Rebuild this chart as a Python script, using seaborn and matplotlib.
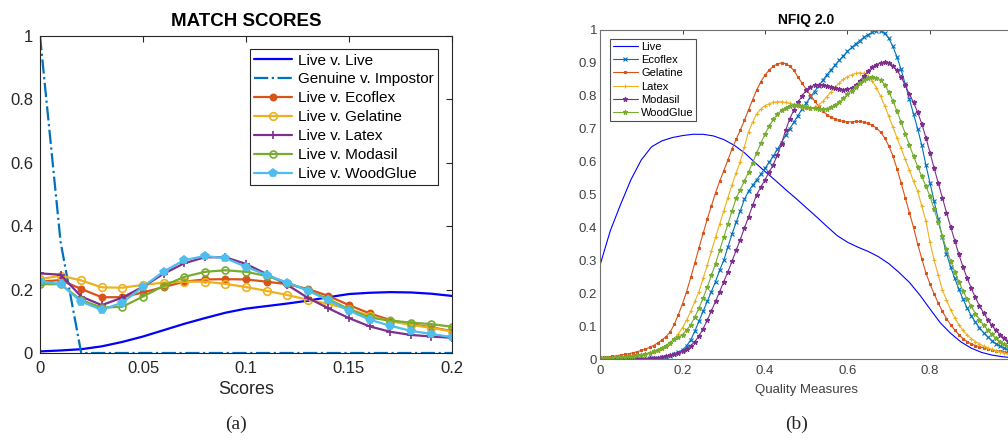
import numpy as np
import seaborn as sns
import matplotlib
matplotlib.use('Agg')
import matplotlib.pyplot as plt

# ---------------- data: (a) match scores ----------------
scores = np.round(np.arange(0, 0.201, 0.01), 2)
live_live = [0.005, 0.008, 0.012, 0.021, 0.035, 0.052, 0.072, 0.092, 0.110, 0.127, 0.140,
             0.148, 0.156, 0.165, 0.176, 0.186, 0.190, 0.192, 0.191, 0.187, 0.180]
genuine_impostor = [1.0, 0.35] + [0.0] * 19
ms_ecoflex = [0.225, 0.230, 0.202, 0.176, 0.176, 0.191, 0.208, 0.225, 0.232, 0.233, 0.232,
              0.225, 0.217, 0.202, 0.180, 0.151, 0.125, 0.104, 0.091, 0.081, 0.069]
ms_gelatine = [0.233, 0.244, 0.229, 0.207, 0.206, 0.215, 0.222, 0.225, 0.225, 0.218, 0.208,
               0.196, 0.183, 0.168, 0.155, 0.138, 0.118, 0.100, 0.089, 0.079, 0.068]
ms_latex = [0.251, 0.247, 0.178, 0.151, 0.175, 0.209, 0.250, 0.283, 0.302, 0.302, 0.281,
            0.249, 0.215, 0.174, 0.141, 0.110, 0.084, 0.067, 0.057, 0.052, 0.048]
ms_modasil = [0.217, 0.217, 0.167, 0.143, 0.146, 0.178, 0.212, 0.240, 0.256, 0.261, 0.256,
              0.243, 0.222, 0.198, 0.170, 0.138, 0.112, 0.102, 0.096, 0.091, 0.083]
ms_woodglue = [0.227, 0.217, 0.162, 0.136, 0.159, 0.209, 0.257, 0.293, 0.306, 0.299, 0.272,
               0.246, 0.222, 0.197, 0.166, 0.134, 0.105, 0.086, 0.070, 0.060, 0.050]

# ---------------- data: (b) NFIQ 2.0 ----------------
q_live = np.round(np.arange(0, 1.0001, 0.025), 3)
nf_live = [0.285, 0.390, 0.470, 0.545, 0.605, 0.645, 0.663, 0.673, 0.679, 0.683, 0.683,
           0.678, 0.667, 0.650, 0.627, 0.598, 0.570, 0.543, 0.515, 0.488, 0.460,
           0.432, 0.403, 0.375, 0.355, 0.340, 0.327, 0.311, 0.290, 0.263, 0.233,
           0.195, 0.152, 0.110, 0.078, 0.052, 0.033, 0.020, 0.012, 0.007, 0.004]

quality = np.round(np.arange(0, 1.0001, 0.01), 2)
nf_ecoflex = [0.000, 0.000, 0.000, 0.000, 0.000, 0.000, 0.000, 0.000, 0.001, 0.001,
              0.001, 0.001, 0.002, 0.003, 0.004, 0.005, 0.007, 0.010, 0.014, 0.020,
              0.028, 0.040, 0.058, 0.085, 0.115, 0.145, 0.175, 0.205, 0.235, 0.270,
              0.300, 0.340, 0.380, 0.415, 0.450, 0.485, 0.510, 0.528, 0.545, 0.562,
              0.580, 0.598, 0.617, 0.637, 0.658, 0.680, 0.700, 0.720, 0.740, 0.760,
              0.778, 0.796, 0.813, 0.830, 0.847, 0.864, 0.879, 0.894, 0.908, 0.922,
              0.935, 0.947, 0.958, 0.968, 0.978, 0.986, 0.993, 0.998, 0.998, 0.990,
              0.975, 0.950, 0.918, 0.880, 0.835, 0.790, 0.745, 0.700, 0.650, 0.590,
              0.535, 0.480, 0.425, 0.370, 0.320, 0.280, 0.245, 0.212, 0.182, 0.155,
              0.132, 0.112, 0.095, 0.080, 0.067, 0.056, 0.047, 0.039, 0.033, 0.028, 0.024]
nf_gelatine = [0.005, 0.006, 0.007, 0.008, 0.010, 0.012, 0.014, 0.016, 0.019, 0.022,
               0.026, 0.030, 0.035, 0.041, 0.049, 0.058, 0.068, 0.082, 0.105, 0.135,
               0.168, 0.205, 0.248, 0.292, 0.338, 0.382, 0.425, 0.465, 0.505, 0.540,
               0.572, 0.605, 0.638, 0.668, 0.695, 0.725, 0.757, 0.788, 0.818, 0.843,
               0.863, 0.878, 0.890, 0.897, 0.900, 0.898, 0.890, 0.877, 0.857, 0.838,
               0.820, 0.802, 0.785, 0.768, 0.754, 0.743, 0.735, 0.729, 0.725, 0.722,
               0.721, 0.721, 0.722, 0.722, 0.720, 0.716, 0.711, 0.702, 0.690, 0.672,
               0.648, 0.618, 0.578, 0.535, 0.490, 0.445, 0.400, 0.350, 0.305, 0.262,
               0.228, 0.198, 0.170, 0.145, 0.123, 0.104, 0.088, 0.074, 0.062, 0.053,
               0.046, 0.041, 0.037, 0.034, 0.031, 0.028, 0.025, 0.023, 0.021, 0.019, 0.017]
nf_latex = [0.002, 0.002, 0.003, 0.003, 0.004, 0.005, 0.006, 0.007, 0.008, 0.010,
            0.012, 0.014, 0.017, 0.021, 0.026, 0.032, 0.040, 0.050, 0.062, 0.077,
            0.095, 0.118, 0.145, 0.175, 0.205, 0.245, 0.285, 0.328, 0.370, 0.410,
            0.450, 0.490, 0.530, 0.565, 0.600, 0.645, 0.690, 0.720, 0.745, 0.760,
            0.770, 0.776, 0.780, 0.782, 0.782, 0.780, 0.777, 0.773, 0.769, 0.766,
            0.764, 0.763, 0.765, 0.772, 0.783, 0.797, 0.812, 0.826, 0.839, 0.850,
            0.858, 0.864, 0.868, 0.870, 0.868, 0.860, 0.845, 0.825, 0.799, 0.770,
            0.738, 0.705, 0.672, 0.640, 0.607, 0.575, 0.540, 0.510, 0.465, 0.420,
            0.355, 0.300, 0.255, 0.210, 0.180, 0.150, 0.125, 0.104, 0.087, 0.073,
            0.062, 0.053, 0.046, 0.039, 0.034, 0.029, 0.025, 0.021, 0.018, 0.016, 0.014]
nf_modasil = [0.000, 0.000, 0.000, 0.000, 0.000, 0.000, 0.000, 0.000, 0.001, 0.001,
              0.001, 0.001, 0.002, 0.003, 0.004, 0.006, 0.008, 0.011, 0.014, 0.018,
              0.023, 0.030, 0.040, 0.053, 0.070, 0.092, 0.118, 0.146, 0.175, 0.205,
              0.235, 0.265, 0.297, 0.330, 0.363, 0.397, 0.432, 0.467, 0.500, 0.523,
              0.545, 0.568, 0.590, 0.620, 0.655, 0.695, 0.730, 0.757, 0.780, 0.800,
              0.817, 0.827, 0.832, 0.834, 0.834, 0.831, 0.827, 0.823, 0.820, 0.819,
              0.820, 0.824, 0.832, 0.845, 0.860, 0.875, 0.887, 0.895, 0.900, 0.902,
              0.900, 0.892, 0.877, 0.857, 0.832, 0.805, 0.780, 0.750, 0.715, 0.673,
              0.627, 0.580, 0.535, 0.490, 0.445, 0.402, 0.360, 0.318, 0.280, 0.246,
              0.215, 0.187, 0.162, 0.140, 0.120, 0.102, 0.087, 0.074, 0.063, 0.054, 0.047]
nf_woodglue = [0.003, 0.003, 0.004, 0.004, 0.005, 0.006, 0.007, 0.008, 0.009, 0.011,
               0.013, 0.016, 0.019, 0.023, 0.028, 0.034, 0.041, 0.050, 0.060, 0.066,
               0.074, 0.088, 0.104, 0.128, 0.155, 0.185, 0.218, 0.254, 0.290, 0.330,
               0.370, 0.410, 0.450, 0.488, 0.515, 0.540, 0.568, 0.597, 0.627, 0.656,
               0.684, 0.708, 0.728, 0.744, 0.756, 0.764, 0.770, 0.773, 0.772, 0.769,
               0.766, 0.764, 0.762, 0.760, 0.759, 0.761, 0.765, 0.772, 0.781, 0.792,
               0.804, 0.816, 0.827, 0.838, 0.847, 0.853, 0.856, 0.855, 0.848, 0.834,
               0.812, 0.785, 0.753, 0.720, 0.685, 0.650, 0.617, 0.585, 0.555, 0.525,
               0.495, 0.455, 0.415, 0.373, 0.333, 0.298, 0.265, 0.235, 0.207, 0.182,
               0.160, 0.138, 0.120, 0.103, 0.088, 0.075, 0.063, 0.053, 0.045, 0.038, 0.032]

# MATLAB default colours
BLUE = '#0000ff'
C1, C2, C3, C4, C5, C6 = '#0072BD', '#D95319', '#EDB120', '#7E2F8E', '#77AC30', '#4DBEEE'

sns.set_theme(style='white')
plt.rcParams['font.family'] = ['Liberation Sans', 'DejaVu Sans']

fig = plt.figure(figsize=(10.08, 4.42), dpi=100)
ax1 = fig.add_axes([40 / 1008, 1 - 353 / 442, 412 / 1008, 317 / 442])
ax2 = fig.add_axes([600 / 1008, 1 - 359 / 442, 412.5 / 1008, 329 / 442])

# ---------- (a) ----------
dark = '#262626'
sns.lineplot(x=scores, y=live_live, color=BLUE, lw=1.6, label='Live v. Live', ax=ax1)
sns.lineplot(x=scores, y=genuine_impostor, color=C1, lw=1.6, linestyle='-.',
             label='Genuine v. Impostor', ax=ax1)
series_a = [
    (ms_ecoflex, C2, 'o', 4.5, C2, 'Live v. Ecoflex'),
    (ms_gelatine, C3, 'o', 5.5, 'none', 'Live v. Gelatine'),
    (ms_latex, C4, '+', 5.5, C4, 'Live v. Latex'),
    (ms_modasil, C5, 'o', 5, 'none', 'Live v. Modasil'),
    (ms_woodglue, C6, 'p', 5.5, C6, 'Live v. WoodGlue'),
]
for vals, col, mk, ms, mfc, lab in series_a:
    sns.lineplot(x=scores, y=vals, color=col, lw=1.6, marker=mk, markersize=ms,
                 markerfacecolor=mfc, markeredgecolor=col, markeredgewidth=1.2,
                 label=lab, ax=ax1)

ax1.set_xlim(0, 0.2)
ax1.set_ylim(0, 1)
ax1.set_xticks([0, 0.05, 0.1, 0.15, 0.2])
ax1.set_xticklabels(['0', '0.05', '0.1', '0.15', '0.2'])
ax1.set_yticks([0, 0.2, 0.4, 0.6, 0.8, 1])
ax1.set_yticklabels(['0', '0.2', '0.4', '0.6', '0.8', '1'])
ax1.tick_params(direction='in', length=4, width=0.8, colors=dark, labelsize=12,
                top=True, right=True, pad=6)
ax1.tick_params(axis='y', pad=5)
for s in ax1.spines.values():
    s.set_color(dark)
    s.set_linewidth(0.8)
ax1.set_xlabel('Scores', fontsize=13, color=dark, labelpad=3)
ax1.set_ylabel('')
ax1.set_title('MATCH SCORES', fontsize=13.5, fontweight='bold', color='black', pad=7)
leg1 = ax1.legend(loc='upper right', bbox_to_anchor=(0.966, 0.959), borderaxespad=0,
                  fontsize=11, handlelength=2.5, handletextpad=0.35, labelspacing=0.32,
                  borderpad=0.3, fancybox=False, framealpha=1, edgecolor=dark)
leg1.get_frame().set_linewidth(0.8)
for t in leg1.get_texts():
    t.set_color('black')

# ---------- (b) ----------
grey = '#404040'
sns.lineplot(x=q_live, y=nf_live, color=BLUE, lw=0.8, label='Live', ax=ax2)
series_b = [
    (nf_ecoflex, C1, 'x', 3, 'Ecoflex'),
    (nf_gelatine, C2, 's', 2, 'Gelatine'),
    (nf_latex, C3, '+', 3.5, 'Latex'),
    (nf_modasil, C4, '*', 3.5, 'Modasil'),
    (nf_woodglue, C5, '*', 3.5, 'WoodGlue'),
]
for vals, col, mk, ms, lab in series_b:
    sns.lineplot(x=quality, y=vals, color=col, lw=0.8, marker=mk, markersize=ms,
                 markerfacecolor=col, markeredgecolor=col, markeredgewidth=0.8,
                 label=lab, ax=ax2)

ax2.set_xlim(0, 1)
ax2.set_ylim(0, 1)
# the "1" tick of the x axis falls just outside the picture
ax2.set_xticks([0, 0.2, 0.4, 0.6, 0.8])
ax2.set_xticklabels(['0', '0.2', '0.4', '0.6', '0.8'])
ax2.set_yticks(np.round(np.arange(0, 1.01, 0.1), 1))
ax2.set_yticklabels(['0', '0.1', '0.2', '0.3', '0.4', '0.5', '0.6', '0.7', '0.8', '0.9', '1'])
ax2.tick_params(direction='in', length=3, width=0.7, colors=grey, labelsize=9.5,
                top=True, right=True, pad=4)
ax2.tick_params(axis='y', pad=2)
for s in ax2.spines.values():
    s.set_color('#707070')
    s.set_linewidth(0.8)
ax2.set_xlabel('Quality Measures', fontsize=9.5, color=grey, labelpad=5)
ax2.set_ylabel('')
ax2.set_title('NFIQ 2.0', fontsize=10, fontweight='bold', color='black', pad=4)
leg2 = ax2.legend(loc='upper left', bbox_to_anchor=(0.024, 0.973), borderaxespad=0,
                  fontsize=8, handlelength=2.3, handletextpad=0.25, labelspacing=0.3,
                  borderpad=0.25, fancybox=False, framealpha=1, edgecolor='#505050')
leg2.get_frame().set_linewidth(0.8)
for t in leg2.get_texts():
    t.set_color('black')

# sub-figure captions
fig.text(236 / 1008, 1 - 424 / 442, '(a)', ha='center', va='center', fontsize=14,
         family=['Liberation Serif', 'DejaVu Serif'])
fig.text(797 / 1008, 1 - 424 / 442, '(b)', ha='center', va='center', fontsize=14,
         family=['Liberation Serif', 'DejaVu Serif'])

fig.savefig('out.png', dpi=100)
